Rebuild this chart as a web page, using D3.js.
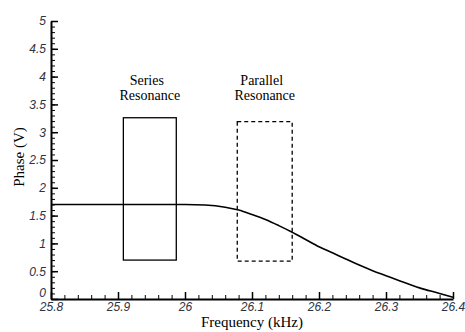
<!DOCTYPE html>
<html>
<head>
<meta charset="utf-8">
<script src="https://cdn.jsdelivr.net/npm/d3@7"></script>
<style>
  body { margin: 0; background: #fff; }
  svg { display: block; }
  .serif { font-family: 'Liberation Serif', 'Times New Roman', Times, serif; }
</style>
</head>
<body>
<div id="chart"></div>
<script>
// phase curve
const freq  = [25.8, 25.9, 26.0, 26.03, 26.06, 26.08, 26.1, 26.12, 26.14, 26.16, 26.18, 26.2, 26.22, 26.24, 26.26, 26.28, 26.3, 26.32, 26.35, 26.38, 26.4];
const phase = [1.70, 1.70, 1.70, 1.69, 1.65, 1.60, 1.52, 1.43, 1.32, 1.20, 1.07, 0.94, 0.83, 0.72, 0.61, 0.51, 0.42, 0.33, 0.20, 0.10, 0.03];

// resonance boxes
const boxNames = ['Series', 'Parallel'];
const boxF0 = [25.908, 26.078];
const boxF1 = [25.987, 26.160];
const boxV0 = [0.70, 0.68];
const boxV1 = [3.26, 3.19];

const xTicks = [25.8, 25.9, 26, 26.1, 26.2, 26.3, 26.4];
const yTicks = [0, 0.5, 1, 1.5, 2, 2.5, 3, 3.5, 4, 4.5, 5];

const W = 465, H = 332;
const margin = { left: 51, right: 12, top: 21, bottom: 33 };

const svg = d3.select('#chart').append('svg')
    .attr('width', W)
    .attr('height', H);

const x = d3.scaleLinear().domain([25.8, 26.4]).range([margin.left, W - margin.right]);
const y = d3.scaleLinear().domain([0, 5]).range([H - margin.bottom, margin.top]);

// minor ticks
svg.append('g')
    .attr('transform', `translate(0, ${y(0)})`)
    .call(d3.axisBottom(x).tickValues(d3.range(0, 31).map(i => 25.8 + i * 0.02)).tickSize(-4).tickSizeOuter(0).tickFormat(''))
    .call(g => g.select('.domain').remove())
    .selectAll('line').attr('stroke', '#000').attr('stroke-width', 1);

svg.append('g')
    .attr('transform', `translate(${x(25.8)}, 0)`)
    .call(d3.axisLeft(y).tickValues(d3.range(0, 51).map(i => i * 0.1)).tickSize(-4).tickSizeOuter(0).tickFormat(''))
    .call(g => g.select('.domain').remove())
    .selectAll('line').attr('stroke', '#000').attr('stroke-width', 1);

// major axes
const xAxis = svg.append('g')
    .attr('transform', `translate(0, ${y(0)})`)
    .call(d3.axisBottom(x).tickValues(xTicks).tickSize(-7).tickSizeOuter(0).tickPadding(3).tickFormat(d => String(d)));

const yAxis = svg.append('g')
    .attr('transform', `translate(${x(25.8)}, 0)`)
    .call(d3.axisLeft(y).tickValues(yTicks).tickSize(-7).tickSizeOuter(0).tickPadding(5).tickFormat(d => String(d)));

[xAxis, yAxis].forEach(g => {
    g.attr('font-family', null).attr('font-size', null);
    g.select('.domain').attr('stroke', '#000').attr('stroke-width', 2);
    g.selectAll('.tick line').attr('stroke', '#000').attr('stroke-width', 1.5);
    g.selectAll('.tick text')
        .attr('fill', '#2b3445')
        .style('font-family', 'Liberation Sans, Arial, sans-serif')
        .style('font-style', 'italic')
        .style('font-size', '12px');
});
// lift the "0" so it clears the "25.8" below it
yAxis.selectAll('.tick text').filter(d => d === 0).attr('dy', '-0.2em');

// phase curve
const pts = freq.map((f, i) => [f, phase[i]]);
svg.append('path')
    .datum(pts)
    .attr('fill', 'none')
    .attr('stroke', '#000')
    .attr('stroke-width', 1.6)
    .attr('d', d3.line().x(d => x(d[0])).y(d => y(d[1])).curve(d3.curveMonotoneX));

// resonance boxes
boxNames.forEach((name, i) => {
    svg.append('rect')
        .attr('x', x(boxF0[i]))
        .attr('y', y(boxV1[i]))
        .attr('width', x(boxF1[i]) - x(boxF0[i]))
        .attr('height', y(boxV0[i]) - y(boxV1[i]))
        .attr('fill', 'none')
        .attr('stroke', '#000')
        .attr('stroke-width', 1.3)
        .attr('stroke-dasharray', i === 1 ? '4,3' : null);

    const cx = (x(boxF0[i]) + x(boxF1[i])) / 2;
    const t = svg.append('text')
        .attr('class', 'serif')
        .attr('text-anchor', 'middle')
        .attr('font-size', 14)
        .attr('fill', '#000');
    t.append('tspan').attr('x', cx - 3).attr('y', 85).text(name);
    t.append('tspan').attr('x', cx).attr('y', 99.5).text('Resonance');
});

// axis titles
svg.append('text')
    .attr('class', 'serif')
    .attr('x', 252)
    .attr('y', 327)
    .attr('text-anchor', 'middle')
    .attr('font-size', 15)
    .text('Frequency (kHz)');

svg.append('text')
    .attr('class', 'serif')
    .attr('transform', 'rotate(-90)')
    .attr('x', -157)
    .attr('y', 24)
    .attr('text-anchor', 'middle')
    .attr('font-size', 15)
    .text('Phase (V)');
</script>
</body>
</html>
